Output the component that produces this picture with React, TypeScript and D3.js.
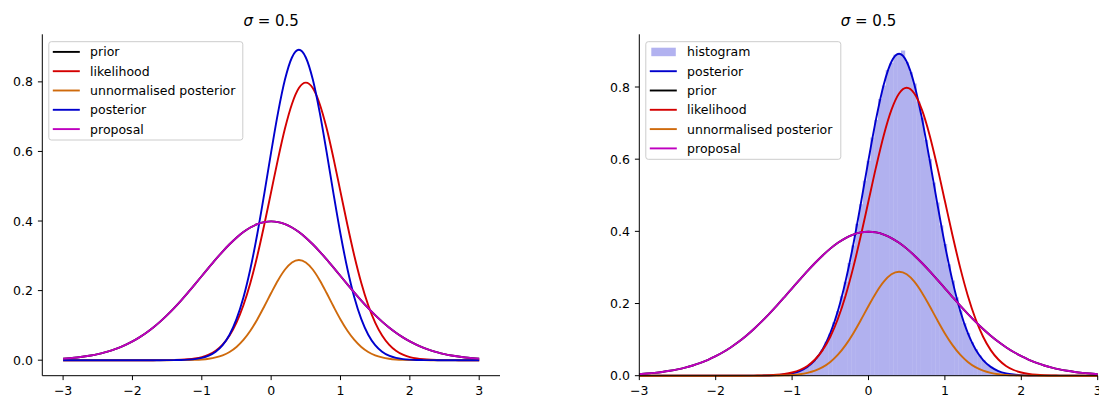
import React from "react";
import * as d3 from "d3";

// ---------- data ----------
// evaluation grid: x from -3 to 3 in steps of 0.1 (61 samples)
const X_START = -3;
const X_STEP = 0.1;

const PRIOR = [
  0.0044, 0.006, 0.0079, 0.0104, 0.0136, 0.0175, 0.0224, 0.0283, 0.0355, 0.044,
  0.054, 0.0656, 0.079, 0.094, 0.1109, 0.1295, 0.1497, 0.1714, 0.1942, 0.2179,
  0.242, 0.2661, 0.2897, 0.3123, 0.3332, 0.3521, 0.3683, 0.3814, 0.391, 0.397,
  0.3989,
  0.397, 0.391, 0.3814, 0.3683, 0.3521, 0.3332, 0.3123, 0.2897, 0.2661, 0.242,
  0.2179, 0.1942, 0.1714, 0.1497, 0.1295, 0.1109, 0.094, 0.079, 0.0656, 0.054,
  0.044, 0.0355, 0.0283, 0.0224, 0.0175, 0.0136, 0.0104, 0.0079, 0.006, 0.0044,
];

const PROPOSAL = [
  0.0044, 0.006, 0.0079, 0.0104, 0.0136, 0.0175, 0.0224, 0.0283, 0.0355, 0.044,
  0.054, 0.0656, 0.079, 0.094, 0.1109, 0.1295, 0.1497, 0.1714, 0.1942, 0.2179,
  0.242, 0.2661, 0.2897, 0.3123, 0.3332, 0.3521, 0.3683, 0.3814, 0.391, 0.397,
  0.3989,
  0.397, 0.391, 0.3814, 0.3683, 0.3521, 0.3332, 0.3123, 0.2897, 0.2661, 0.242,
  0.2179, 0.1942, 0.1714, 0.1497, 0.1295, 0.1109, 0.094, 0.079, 0.0656, 0.054,
  0.044, 0.0355, 0.0283, 0.0224, 0.0175, 0.0136, 0.0104, 0.0079, 0.006, 0.0044,
];

const LIKELIHOOD = [
  0, 0, 0, 0, 0, 0, 0, 0, 0, 0, 0, 0, 0, 0,
  0.0001, 0.0003, 0.0006, 0.0012, 0.0025, 0.0048, 0.0089, 0.0158, 0.0271, 0.0448,
  0.0709, 0.108, 0.1579, 0.2218, 0.2995, 0.3884, 0.4839, 0.5794, 0.6665, 0.7365,
  0.7821, 0.7979, 0.7821, 0.7365, 0.6665, 0.5794, 0.4839, 0.3884, 0.2995, 0.2218,
  0.1579, 0.108, 0.0709, 0.0448, 0.0271, 0.0158, 0.0089, 0.0048, 0.0025, 0.0012,
  0.0006, 0.0003, 0.0001,
  0, 0, 0, 0,
];

const POSTERIOR = [
  0, 0, 0, 0, 0, 0, 0, 0, 0, 0, 0, 0, 0, 0, 0,
  0.0001, 0.0003, 0.0006, 0.0015, 0.0032, 0.0066, 0.013, 0.0244, 0.0433, 0.0732,
  0.1178, 0.1801, 0.2621, 0.3627, 0.4775, 0.598, 0.7123, 0.8072, 0.8701, 0.8921,
  0.8701, 0.8072, 0.7123, 0.598, 0.4775, 0.3627, 0.2621, 0.1801, 0.1178, 0.0732,
  0.0433, 0.0244, 0.013, 0.0066, 0.0032, 0.0015, 0.0006, 0.0003, 0.0001,
  0, 0, 0, 0, 0, 0, 0,
];

const UNNORMALISED = [
  0, 0, 0, 0, 0, 0, 0, 0, 0, 0, 0, 0, 0, 0, 0,
  0, 0.0001, 0.0002, 0.0005, 0.001, 0.0021, 0.0042, 0.0079, 0.014, 0.0236,
  0.038, 0.0582, 0.0846, 0.1171, 0.1542, 0.1931, 0.23, 0.2606, 0.281, 0.2881,
  0.281, 0.2606, 0.23, 0.1931, 0.1542, 0.1171, 0.0846, 0.0582, 0.038, 0.0236,
  0.014, 0.0079, 0.0042, 0.0021, 0.001, 0.0005, 0.0002, 0.0001, 0,
  0, 0, 0, 0, 0, 0, 0,
];

// histogram of samples: bins of width 0.05 centred from -1.30 to 2.10
const HIST_START = -1.3;
const HIST_WIDTH = 0.05;
const HIST = [
  0.0006, 0.001, 0.0014, 0.0023, 0.0031, 0.0048, 0.0064, 0.0097, 0.0128, 0.0183,
  0.024, 0.0331, 0.0428, 0.0573, 0.0725, 0.0941, 0.1169, 0.148, 0.1788, 0.2201,
  0.2604, 0.3125, 0.361, 0.421, 0.4752, 0.5405, 0.5954, 0.6601, 0.7088, 0.7668,
  0.8041, 0.847, 0.8672, 0.8894, 0.893, 0.901, 0.8685, 0.8411, 0.8098, 0.759,
  0.715, 0.6535, 0.6002, 0.5352, 0.4801, 0.4165, 0.365, 0.3085, 0.2638, 0.2172,
  0.1812, 0.1455, 0.1186, 0.0927, 0.0738, 0.056, 0.0437, 0.0322, 0.0247, 0.0177,
  0.0132, 0.0091, 0.0067, 0.0045, 0.0033, 0.0021, 0.0015, 0.0009, 0.0006,
];

const X_TICKS = [-3, -2, -1, 0, 1, 2, 3];
const Y_TICKS = [0, 0.2, 0.4, 0.6, 0.8];
const TITLE_SIGMA = "0.5";

// ---------- styling ----------
const COLORS: Record<string, string> = {
  prior: "#000000",
  likelihood: "#d40000",
  unnormalised: "#cf6a0c",
  posterior: "#0000cd",
  proposal: "#bf00bf",
};
const FONT = "DejaVu Sans, sans-serif";
const FS = 12.5;

const xGrid = PRIOR.map((_, i) => X_START + i * X_STEP);
const histCenters = HIST.map((_, i) => HIST_START + i * HIST_WIDTH);

type Series = { key: string; label: string; values: number[] };

const LEFT_SERIES: Series[] = [
  { key: "prior", label: "prior", values: PRIOR },
  { key: "likelihood", label: "likelihood", values: LIKELIHOOD },
  { key: "unnormalised", label: "unnormalised posterior", values: UNNORMALISED },
  { key: "posterior", label: "posterior", values: POSTERIOR },
  { key: "proposal", label: "proposal", values: PROPOSAL },
];
const RIGHT_SERIES: Series[] = [
  { key: "posterior", label: "posterior", values: POSTERIOR },
  { key: "prior", label: "prior", values: PRIOR },
  { key: "likelihood", label: "likelihood", values: LIKELIHOOD },
  { key: "unnormalised", label: "unnormalised posterior", values: UNNORMALISED },
  { key: "proposal", label: "proposal", values: PROPOSAL },
];

const fmtX = (v: number) => (v < 0 ? "\u2212" + Math.abs(v) : String(v));
const fmtY = (v: number) => v.toFixed(1);

type PanelProps = {
  left: number;
  right: number;
  top: number;
  bottom: number;
  xDomain: [number, number];
  yDomain: [number, number];
  series: Series[];
  hist?: boolean;
};

function Panel({ left, right, top, bottom, xDomain, yDomain, series, hist }: PanelProps) {
  const x = d3.scaleLinear().domain(xDomain).range([left, right]);
  const y = d3.scaleLinear().domain(yDomain).range([bottom, top]);
  const line = d3
    .line<number>()
    .x((_, i) => x(xGrid[i]))
    .y((d) => y(d))
    .curve(d3.curveMonotoneX);
  const tickLen = 4.4;
  const cx = (left + right) / 2;

  const legendItems: { key: string; label: string; patch?: boolean }[] = [];
  if (hist) legendItems.push({ key: "hist", label: "histogram", patch: true });
  series.forEach((s) => legendItems.push({ key: s.key, label: s.label }));
  const lgX = left + 6.5;
  const lgY = 41.7;
  const rowH = 19.3;
  const lgW = hist ? 195 : 194;
  const lgH = legendItems.length * rowH + 1.8;

  return (
    <g>
      {/* title */}
      <text x={cx} y={26} textAnchor="middle" fontFamily={FONT} fontSize={15} fill="#000">
        <tspan fontStyle="italic">σ</tspan>
        <tspan>{" = " + TITLE_SIGMA}</tspan>
      </text>

      {/* histogram */}
      {hist && (
        <g opacity={0.3}>
          {HIST.map((v, i) => {
            const x0 = x(histCenters[i] - HIST_WIDTH / 2);
            const x1 = x(histCenters[i] + HIST_WIDTH / 2);
            return (
              <rect
                key={i}
                x={x0}
                width={x1 - x0 + 0.4}
                y={y(v)}
                height={y(0) - y(v)}
                fill={COLORS.posterior}
              />
            );
          })}
        </g>
      )}

      {/* curves */}
      {series.map((s) => (
        <path
          key={s.key}
          d={line(s.values) || ""}
          fill="none"
          stroke={COLORS[s.key]}
          strokeWidth={1.9}
          strokeLinejoin="round"
        />
      ))}

      {/* spines */}
      <line x1={left} x2={left} y1={top} y2={bottom} stroke="#000" strokeWidth={1} />
      <line x1={left} x2={right} y1={bottom} y2={bottom} stroke="#000" strokeWidth={1} />

      {/* x ticks */}
      {X_TICKS.map((t) => (
        <g key={"x" + t}>
          <line x1={x(t)} x2={x(t)} y1={bottom} y2={bottom + tickLen} stroke="#000" strokeWidth={1} />
          <text x={x(t)} y={bottom + 19.3} textAnchor="middle" fontFamily={FONT} fontSize={FS} fill="#000">
            {fmtX(t)}
          </text>
        </g>
      ))}
      {/* y ticks */}
      {Y_TICKS.map((t) => (
        <g key={"y" + t}>
          <line x1={left - tickLen} x2={left} y1={y(t)} y2={y(t)} stroke="#000" strokeWidth={1} />
          <text x={left - 9.3} y={y(t) + 4.6} textAnchor="end" fontFamily={FONT} fontSize={FS} fill="#000">
            {fmtY(t)}
          </text>
        </g>
      ))}

      {/* legend */}
      <rect
        x={lgX}
        y={lgY}
        width={lgW}
        height={lgH}
        rx={2.5}
        fill="#fff"
        fillOpacity={0.8}
        stroke="#cccccc"
        strokeWidth={1}
      />
      {legendItems.map((it, i) => {
        const ry = lgY + 10.2 + i * rowH;
        return (
          <g key={"lg" + it.key}>
            {it.patch ? (
              <rect x={lgX + 5.5} y={ry - 4.2} width={24.5} height={8.5} fill={COLORS.posterior} fillOpacity={0.3} />
            ) : (
              <line x1={lgX + 4} x2={lgX + 31} y1={ry} y2={ry} stroke={COLORS[it.key]} strokeWidth={1.9} />
            )}
            <text x={lgX + 41.3} y={ry + 4.5} fontFamily={FONT} fontSize={FS} fill="#000">
              {it.label}
            </text>
          </g>
        );
      })}
    </g>
  );
}

export default function App() {
  const W = 1099;
  const H = 401;
  const leftMax = d3.max(LEFT_SERIES.flatMap((s) => s.values)) as number;
  const leftPad = 0.05 * leftMax;
  const rightMax = Math.max(d3.max(HIST) as number, d3.max(POSTERIOR) as number);

  return (
    <svg
      width={W}
      height={H}
      viewBox={`0 0 ${W} ${H}`}
      style={{ position: "absolute", left: 0, top: 0, background: "#fff" }}
    >
      <rect width={W} height={H} fill="#fff" />
      <Panel
        left={42.3}
        right={500}
        top={34.3}
        bottom={375.7}
        xDomain={[-3.3, 3.3]}
        yDomain={[-leftPad, leftMax + leftPad]}
        series={LEFT_SERIES}
      />
      <Panel
        left={639.3}
        right={1097.7}
        top={34.3}
        bottom={375.7}
        xDomain={[-3, 3]}
        yDomain={[0, rightMax * 1.05]}
        series={RIGHT_SERIES}
        hist
      />
    </svg>
  );
}
